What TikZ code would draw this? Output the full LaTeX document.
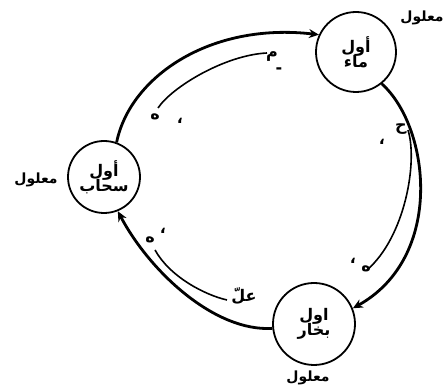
\documentclass[tikz,border=0pt]{standalone}
\usepackage{fontspec}
\newfontfamily\arabicfont[Script=Arabic]{DejaVu Sans}
\TeXXeTstate=1
\usetikzlibrary{arrows.meta}
\tikzset{
  elem/.style={circle, draw, line width=1.8pt, minimum size=#1, inner sep=0pt, align=center, font=\arabicfont\bfseries\fontsize{16}{15}\selectfont},
  outer/.style={line width=2.8pt, -{Stealth[length=10pt,width=9pt]}},
  inner/.style={line width=1.6pt},
  lab/.style={font=\arabicfont\bfseries\fontsize{16}{16}\selectfont, inner sep=0pt},
  eff/.style={font=\arabicfont\bfseries\fontsize{14}{14}\selectfont, inner sep=0pt}
}
\begin{document}
\begin{tikzpicture}[x=1pt,y=1pt]
\useasboundingbox (0,0) rectangle (448,387);
% elements
\node[elem=80pt] (water) at (356,335) {\beginR أول\endR\\[-2pt]\beginR ماء\endR};
\node[elem=72pt] (cloud) at (104,210) {\beginR أول\endR\\[-2pt]\beginR سحاب\endR};
\node[elem=82pt] (vapor) at (314,63) {\beginR اول\endR\\[-2pt]\beginR بخار\endR};
% effect labels
\node[eff] (e1) at (422,369) {\beginR معلول\endR};
\node[eff] (e2) at (36,207) {\beginR معلول\endR};
\node[eff] (e3) at (308,9) {\beginR معلول\endR};
% outer cycle
\draw[outer] (cloud.70) .. controls (130,310) and (210,365) .. (water.155);
\draw[outer] (water.-51) .. controls (430,260) and (445,130) .. (vapor.22);
\draw[outer] (vapor.186) .. controls (215,55) and (150,115) .. (cloud.-68);
% inner arcs
\coordinate (a1) at (158,279);
\coordinate (a2) at (267,334);
\coordinate (b1) at (408,257);
\coordinate (b2) at (367,117);
\coordinate (c1) at (155,137);
\coordinate (c2) at (227,87);
\draw[inner] (a1) .. controls (172,300) and (225,332) .. (a2);
\draw[inner] (b1) .. controls (418,225) and (405,150) .. (b2);
\draw[inner] (c1) .. controls (170,110) and (205,92) .. (c2);
% inner labels
\node[lab] (l1) at (272,330) {\beginR م\endR};
\node[lab] (l2) at (279,316) {-};
\node[lab] (l3) at (155,270) {\beginR ه\endR};
\node[lab] (l4) at (180,266) {\beginR ،\endR};
\node[lab] (l5) at (401,258) {\beginR ح\endR};
\node[lab] (l6) at (382,245) {\beginR ،\endR};
\node[lab] (l7) at (366,118) {\beginR ه\endR};
\node[lab] (l8) at (353,126) {\beginR ،\endR};
\node[lab] (l9) at (150,147) {\beginR ه\endR};
\node[lab] (l10) at (163,156) {\beginR ،\endR};
\node[lab] (l11) at (244,91) {\beginR علّ\endR};
\end{tikzpicture}
\end{document}
